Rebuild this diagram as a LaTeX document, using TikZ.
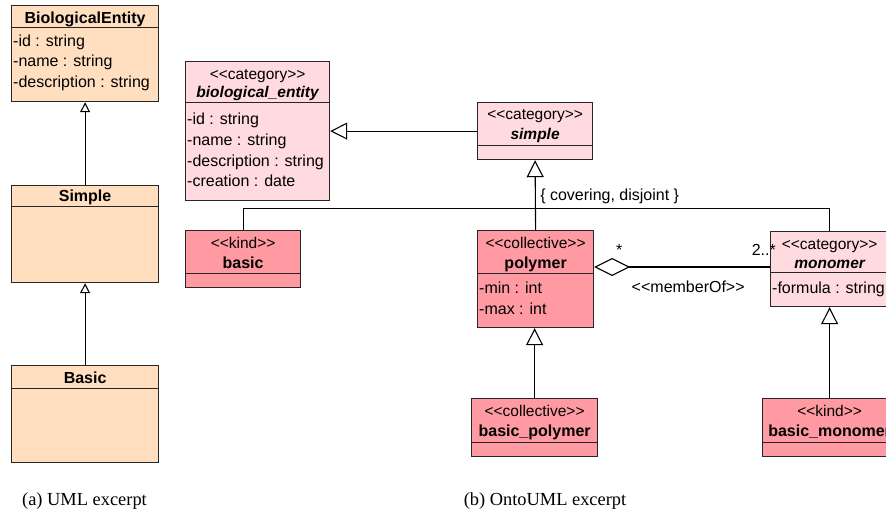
\documentclass[tikz,border=0pt]{standalone}
\usepackage{fontspec}
\setmainfont{Liberation Sans}
\newfontfamily\capfont{Liberation Serif}
\usetikzlibrary{arrows.meta, positioning, calc}

\definecolor{umlpeach}{RGB}{255,223,192}
\definecolor{ontolight}{RGB}{255,218,222}
\definecolor{ontodark}{RGB}{255,154,162}

\newcommand{\stype}[1]{<{}<#1>{}>}

\tikzset{
    umlclass/.style={draw=black!85, line width=1.2pt, inner sep=0pt, anchor=north west},
    divider/.style={draw=black!85, line width=1pt},
    clsname/.style={font=\fontsize{16}{19}\selectfont\bfseries, anchor=base, inner sep=0pt},
    abstractname/.style={font=\fontsize{15.5}{19}\selectfont\bfseries\itshape, anchor=base, inner sep=0pt},
    stereo/.style={font=\fontsize{15.5}{19}\selectfont, anchor=base, inner sep=0pt},
    attr/.style={font=\fontsize{16}{19}\selectfont, anchor=base west, inner sep=0pt},
    edgelabel/.style={font=\fontsize{16}{19}\selectfont, anchor=base, inner sep=0pt},
    gen/.style={-{Triangle[open, length=17pt, width=17pt]}, line width=1.1pt},
    smallgen/.style={-{Triangle[open, length=10pt, width=10pt]}, line width=1.1pt},
    caption/.style={font=\capfont\fontsize{18.4}{22}\selectfont, anchor=base, inner sep=0pt}
}

\begin{document}
\begin{tikzpicture}[x=1pt, y=-1pt]
        \useasboundingbox (0,0) rectangle (886,513);
        \clip (0,0) rectangle (886,513);

        % (a) UML excerpt
        \node[umlclass, fill=umlpeach, minimum width=147pt, minimum height=96pt] (bioEntU) at (11,5) {};
        \draw[divider] ($(bioEntU.north west)+(0,23)$) -- ($(bioEntU.north east)+(0,23)$);
        \node[clsname] (bioEntUName) at ($(bioEntU.north)+(0,18.5)$) {BiologicalEntity};
        \node[attr] (bioEntUId) at ($(bioEntU.north west)+(2,41.5)$) {-id : string};
        \node[attr] (bioEntUNm) at ($(bioEntU.north west)+(2,62)$) {-name : string};
        \node[attr] (bioEntUDs) at ($(bioEntU.north west)+(2,82.5)$) {-description : string};

        \node[umlclass, fill=umlpeach, minimum width=147pt, minimum height=97pt] (simpleU) at (11,185) {};
        \draw[divider] ($(simpleU.north west)+(0,22)$) -- ($(simpleU.north east)+(0,22)$);
        \node[clsname] (simpleUName) at ($(simpleU.north)+(0,17)$) {Simple};

        \node[umlclass, fill=umlpeach, minimum width=147pt, minimum height=97pt] (basicU) at (11,365) {};
        \draw[divider] ($(basicU.north west)+(0,23)$) -- ($(basicU.north east)+(0,23)$);
        \node[clsname] (basicUName) at ($(basicU.north)+(0,18)$) {Basic};

        \draw[smallgen] (simpleU.north) -- (bioEntU.south);
        \draw[smallgen] (basicU.north) -- (simpleU.south);

        \node[caption] (capA) at (84.5,505) {(a) UML excerpt};

        % (b) OntoUML excerpt
        \node[umlclass, fill=ontolight, minimum width=144pt, minimum height=139pt] (bioEnt) at (185,61) {};
        \draw[divider] ($(bioEnt.north west)+(0,42)$) -- ($(bioEnt.north east)+(0,42)$);
        \node[stereo] (bioEntSt) at ($(bioEnt.north)+(0,19)$) {\stype{category}};
        \node[abstractname] (bioEntName) at ($(bioEnt.north)+(0,37)$) {biological\_entity};
        \node[attr] (bioEntId) at ($(bioEnt.north west)+(2,64)$) {-id : string};
        \node[attr] (bioEntNm) at ($(bioEnt.north west)+(2,85)$) {-name : string};
        \node[attr] (bioEntDs) at ($(bioEnt.north west)+(2,105.5)$) {-description : string};
        \node[attr] (bioEntCr) at ($(bioEnt.north west)+(2,126)$) {-creation : date};

        \node[umlclass, fill=ontolight, minimum width=115pt, minimum height=57pt] (simple) at (477,102) {};
        \draw[divider] ($(simple.north west)+(0,44)$) -- ($(simple.north east)+(0,44)$);
        \node[stereo] (simpleSt) at ($(simple.north)+(0,18)$) {\stype{category}};
        \node[abstractname] (simpleName) at ($(simple.north)+(0,38)$) {simple};

        \node[umlclass, fill=ontodark, minimum width=115pt, minimum height=57pt] (basicK) at (185,230) {};
        \draw[divider] ($(basicK.north west)+(0,43)$) -- ($(basicK.north east)+(0,43)$);
        \node[stereo] (basicKSt) at ($(basicK.north)+(0,18)$) {\stype{kind}};
        \node[clsname] (basicKName) at ($(basicK.north)+(0,38)$) {basic};

        \node[umlclass, fill=ontodark, minimum width=116pt, minimum height=97pt] (polymer) at (477,230) {};
        \draw[divider] ($(polymer.north west)+(0,43)$) -- ($(polymer.north east)+(0,43)$);
        \node[stereo] (polymerSt) at ($(polymer.north)+(0,18)$) {\stype{collective}};
        \node[clsname] (polymerName) at ($(polymer.north)+(0,38)$) {polymer};
        \node[attr] (polymerMin) at ($(polymer.north west)+(2,63)$) {-min : int};
        \node[attr] (polymerMax) at ($(polymer.north west)+(2,84)$) {-max : int};

        \node[umlclass, fill=ontolight, minimum width=118pt, minimum height=75pt] (monomer) at (770,231) {};
        \draw[divider] ($(monomer.north west)+(0,41)$) -- ($(monomer.north east)+(0,41)$);
        \node[stereo] (monomerSt) at ($(monomer.north)+(0,18)$) {\stype{category}};
        \node[abstractname] (monomerName) at ($(monomer.north)+(0,38)$) {monomer};
        \node[attr] (monomerFm) at ($(monomer.north west)+(2,62)$) {-formula : string};

        \node[umlclass, fill=ontodark, minimum width=126pt, minimum height=58pt] (basicPoly) at (471,398) {};
        \draw[divider] ($(basicPoly.north west)+(0,44)$) -- ($(basicPoly.north east)+(0,44)$);
        \node[stereo] (basicPolySt) at ($(basicPoly.north)+(0,18)$) {\stype{collective}};
        \node[clsname] (basicPolyName) at ($(basicPoly.north)+(0,38.5)$) {basic\_polymer};

        \node[umlclass, fill=ontodark, minimum width=134pt, minimum height=58pt] (basicMono) at (762,398) {};
        \draw[divider] ($(basicMono.north west)+(0,44)$) -- ($(basicMono.north east)+(0,44)$);
        \node[stereo] (basicMonoSt) at ($(basicMono.north)+(0,18)$) {\stype{kind}};
        \node[clsname] (basicMonoName) at ($(basicMono.north)+(0,38.5)$) {basic\_monomer};

        % Generalizations
        \draw[gen] (simple.west) -- (bioEnt.east);
        \coordinate (gsJoin) at ($(simple.south)+(0,48)$);
        \draw[line width=1.1pt] (basicK.north) |- (gsJoin) -| (monomer.north);
        \draw[gen] (polymer.north) -- (simple.south);
        \node[edgelabel, anchor=base west] (gsLabel) at ($(gsJoin)+(5,-8)$) {\{ covering, disjoint \}};
        \draw[gen] (basicPoly.north) -- (basicPoly.north |- polymer.south);
        \draw[gen] (basicMono.north) -- (monomer.south);

        % memberOf aggregation
        \coordinate (aggEnd) at ($(polymer.north east)+(0,37)$);
        \draw[{Diamond[open, length=36pt, width=18pt]}-, line width=1.1pt] (aggEnd) -- (aggEnd -| monomer.west);
        \node[edgelabel] (aggStar) at ($(aggEnd)+(25,-12)$) {*};
        \node[edgelabel, anchor=base east] (memberMult) at ($(aggEnd -| monomer.west)+(6,-12)$) {2..*};
        \node[edgelabel] (memberOf) at ($(aggEnd)+(94,25)$) {\stype{memberOf}};

        \node[caption] (capB) at (545,505) {(b) OntoUML excerpt};
\end{tikzpicture}
\end{document}
